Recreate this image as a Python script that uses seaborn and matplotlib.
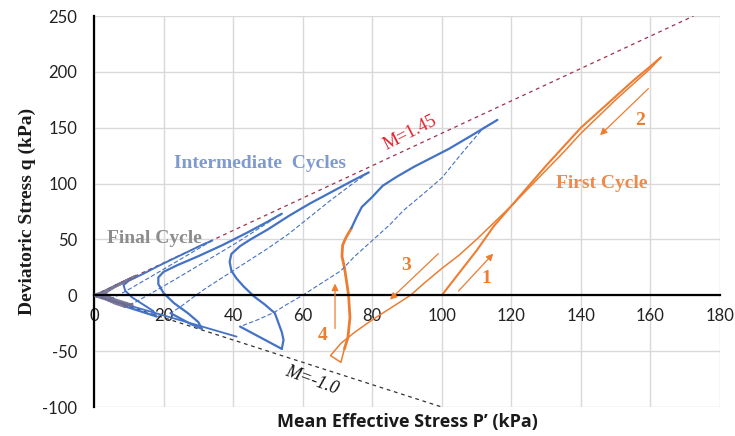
import matplotlib
matplotlib.use("Agg")
import matplotlib.pyplot as plt
import seaborn as sns
import pandas as pd

# ---------------- data ----------------
# Critical state lines
m_comp_p = [0, 172.4]
m_comp_q = [0, 250]
m_ext_p = [0, 100]
m_ext_q = [0, -100]

# First cycle (orange)
c1_load_p = [100, 105, 110, 115, 120, 125, 130, 135, 140, 145, 150, 155, 160, 163]
c1_load_q = [0, 20, 40, 62, 80, 98, 116, 133, 150, 164, 178, 192, 205, 213]
c1_unload_p = [163, 160, 155, 150, 145, 140, 135, 130, 125, 120, 115, 110, 105, 100, 95, 91,
               86, 80, 75, 71, 68, 71, 72]
c1_unload_q = [213, 203, 189, 175, 160, 145, 128, 112, 96, 80, 65, 50, 36, 24, 11, 0,
               -10, -22, -33, -43, -54, -60, -48]
c1_rise_p = [72, 73, 73.6, 73.2, 72.5, 72, 71.3, 71.5, 72.5, 74]
c1_rise_q = [-48, -38, -20, 0, 15, 25, 35, 45, 52, 60]

# Intermediate cycles (blue): solid = loading, dashed = unloading
c2_load_p = [74, 75.5, 77, 80, 83, 87, 92, 97, 102, 108, 116]
c2_load_q = [60, 70, 79, 88, 98, 106, 115, 123, 131, 142, 157]
c2_unload_p = [116, 112, 106, 100, 94, 89, 85, 80, 75, 71, 65, 60, 55, 52, 47, 42]
c2_unload_q = [157, 150, 128, 105, 89, 76, 63, 49, 35, 22, 10, 0, -9, -15, -22, -28]
c2_ext_p = [42, 45, 48, 51, 54]
c2_ext_q = [-28, -33, -38, -43, -48]

c3_load_p = [54, 54.5, 54, 52, 49, 46, 43, 41, 39.5, 39, 39.5, 42, 45, 50, 56, 62, 68, 74, 79]
c3_load_q = [-48, -40, -33, -16, -8, -1, 8, 15, 22, 30, 37, 44, 50, 59, 71, 82, 92, 102, 110]
c3_unload_p = [79, 74, 68, 62, 56, 50, 44, 38, 32, 28, 25, 22]
c3_unload_q = [110, 99, 85, 70, 55, 42, 30, 18, 6, -3, -10, -16]
c3_ext_p = [22, 25, 28, 31]
c3_ext_q = [-16, -21, -26, -30]

c4_load_p = [31, 30, 27, 23, 20, 18.5, 18.5, 20, 24, 30, 37, 44, 50, 54]
c4_load_q = [-30, -24, -16, -7, 2, 10, 16, 21, 27, 35, 45, 56, 66, 73]
c4_unload_p = [54, 48, 41, 34, 27, 21, 16, 12, 9]
c4_unload_q = [73, 61, 47, 34, 21, 10, 1, -6, -10]
c4_ext_p = [9, 12, 15, 18]
c4_ext_q = [-10, -13, -16, -19]

c5_load_p = [18, 17, 14, 11, 9, 8.5, 10, 14, 19, 25, 31, 34]
c5_load_q = [-19, -14, -8, -2, 4, 9, 13, 19, 27, 36, 45, 49]
c5_unload_p = [34, 28, 22, 16, 11, 7, 4]
c5_unload_q = [49, 38, 27, 16, 7, 0, -4]

# path along the extension failure line
ext_path_p = [2, 10, 20, 30, 41]
ext_path_q = [-2, -9, -18, -27, -37]

# Final cycle (grey)
cf_p = [4, 6, 9, 5, 3, 6, 12, 6, 2, 0, 5, 11, 4, 0]
cf_q = [-4, -7, -10, -3, 2, 8, 17, 8, 2, 0, -5, -9, -2, 0]

x_ticks = [0, 20, 40, 60, 80, 100, 120, 140, 160, 180]
y_ticks = [-100, -50, 0, 50, 100, 150, 200, 250]

# ---------------- styling ----------------
sns.set_theme(style="white")
plt.rcParams['font.family'] = ['Lato', 'DejaVu Sans']

ORANGE = "#ED7D31"
BLUE = "#4472C4"

fig = plt.figure(figsize=(7.35, 4.36), dpi=100)
ax = fig.add_axes([94 / 735, 29 / 436, 626 / 735, 391 / 436])


def draw(p, q, color, lw=1.5, ls="-", alpha=1.0, z=3):
    df = pd.DataFrame({"p": p, "q": q})
    sns.lineplot(data=df, x="p", y="q", sort=False, estimator=None, color=color,
                 lw=lw, linestyle=ls, alpha=alpha, ax=ax, zorder=z)


# failure lines
draw(m_comp_p, m_comp_q, "#A0304A", lw=0.9, ls=(0, (3, 3)), z=2)
draw(m_ext_p, m_ext_q, "#333333", lw=0.9, ls=(0, (3, 3)), z=2)

# first cycle
draw(c1_load_p, c1_load_q, ORANGE, lw=1.5)
draw(c1_unload_p, c1_unload_q, ORANGE, lw=1.1)
draw(c1_rise_p, c1_rise_q, ORANGE, lw=2.0)

# intermediate cycles
dash = (0, (4, 2))
for lp, lq, up, uq, ep, eq in [
    (c2_load_p, c2_load_q, c2_unload_p, c2_unload_q, c2_ext_p, c2_ext_q),
    (c3_load_p, c3_load_q, c3_unload_p, c3_unload_q, c3_ext_p, c3_ext_q),
    (c4_load_p, c4_load_q, c4_unload_p, c4_unload_q, c4_ext_p, c4_ext_q),
]:
    draw(lp, lq, BLUE, lw=1.6)
    draw(up, uq, BLUE, lw=0.8, ls=dash)
    draw(ep, eq, BLUE, lw=1.6)
draw(c5_load_p, c5_load_q, BLUE, lw=1.4)
draw(c5_unload_p, c5_unload_q, BLUE, lw=0.8, ls=dash)
draw(ext_path_p, ext_path_q, BLUE, lw=1.3)
draw(cf_p, cf_q, "#6E6A8E", lw=2.2, alpha=0.9)

# axes
ax.set_xlim(0, 180)
ax.set_ylim(-100, 250)
ax.set_xticks(x_ticks)
ax.set_yticks(y_ticks)
ax.set_xticklabels([str(v) for v in x_ticks])
ax.set_yticklabels([str(v) for v in y_ticks])
ax.grid(True, color="#D9D9D9", lw=1.0, zorder=0)
ax.set_axisbelow(True)
for s in ["top", "right"]:
    ax.spines[s].set_visible(False)
ax.spines["bottom"].set_position(("data", 0))
ax.spines["bottom"].set_color("black")
ax.spines["left"].set_color("black")
ax.spines["bottom"].set_linewidth(1.6)
ax.spines["left"].set_linewidth(1.6)
ax.spines["bottom"].set_zorder(4)
ax.tick_params(axis="both", direction="inout", length=10, width=1.6, color="black",
               labelsize=12, labelcolor="#222222")
ax.tick_params(axis="x", pad=4)
ax.tick_params(axis="y", pad=7)
for t in ax.get_xticklabels() + ax.get_yticklabels():
    t.set_fontfamily(["Lato", "DejaVu Sans"])

ax.set_xlabel("Mean Effective Stress P\u2019 (kPa)", fontsize=13, fontweight="bold",
              fontfamily=["Open Sans", "DejaVu Sans"], color="#1a1a1a")
ax.xaxis.set_label_coords(0.5, -0.038)
ax.xaxis.label.set_va("center")
ax.set_ylabel("Deviatoric Stress q (kPa)", fontsize=14, fontweight="bold",
              fontfamily=["Liberation Serif", "DejaVu Serif"], color="#1a1a1a")
ax.yaxis.set_label_coords(-0.106, 0.5)
ax.yaxis.label.set_va("center")

serif = ["Liberation Serif", "DejaVu Serif"]
ax.text(47.6, 118, "Intermediate  Cycles", fontsize=14, fontweight="bold", color="#7F9ACF",
        family=serif, ha="center", va="center")
ax.text(17.4, 51, "Final Cycle", fontsize=14, fontweight="bold", color="#8C8C8C",
        family=serif, ha="center", va="center", zorder=5)
ax.text(146, 100, "First Cycle", fontsize=14, fontweight="bold", color="#EE8A4A",
        family=serif, ha="center", va="center")
ax.text(91, 145, "M=1.45", fontsize=13, color="#E0202A", family=serif,
        ha="center", va="center", rotation=27)
ax.text(62.6, -76, "M=-1.0", fontsize=13, color="#111111", family=serif, style="italic",
        ha="center", va="center", rotation=-20)

# arrows and step numbers
arrows = [((104.8, 3.8), (114.8, 37.3)), ((159.4, 185), (145.5, 143.3)),
          ((99, 37.3), (85.1, -3.9)), ((69.3, -29.8), (69.3, 10.5))]
for (x0, y0), (x1, y1) in arrows:
    ax.annotate("", xy=(x1, y1), xytext=(x0, y0),
                arrowprops=dict(arrowstyle="-|>", color=ORANGE, lw=0.9,
                                mutation_scale=10, shrinkA=0, shrinkB=0), zorder=5)
labels = [(112.9, 15, "1"), (157, 156.7, "2"), (89.7, 26.9, "3"), (65.7, -35.8, "4")]
for x, y, s in labels:
    ax.text(x, y, s, fontsize=14, fontweight="bold", color=ORANGE, family=serif,
            ha="center", va="center")

fig.savefig("out.png", dpi=100)
